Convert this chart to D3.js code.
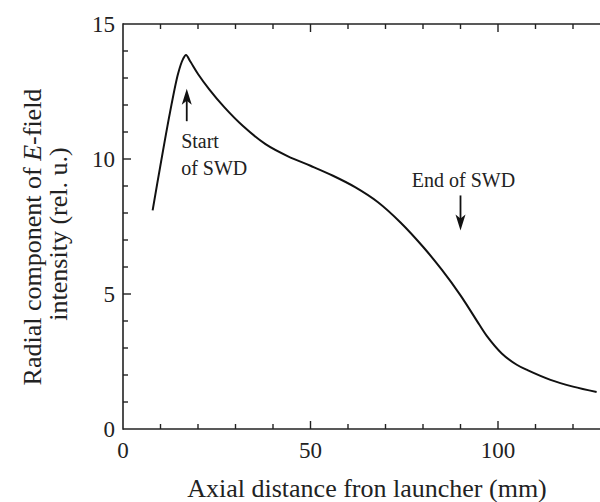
<!DOCTYPE html>
<html>
<head>
<meta charset="utf-8">
<script src="https://cdn.jsdelivr.net/npm/d3@7"></script>
<style>
  body { margin: 0; background: #fff; }
</style>
</head>
<body>
<script>
// field curve (mm, rel. u.)
const distance = [7.9, 9.9, 12.5, 14.7, 16.0, 16.8, 18.0, 20.0, 23.0, 27.0, 32.0, 38.0, 44.0, 50.0,
                  56.0, 62.0, 68.0, 74.0, 80.0, 85.0, 90.0, 95.0, 97.0, 101.0, 105.0, 108.0, 114.0, 120.0, 126.3]
const intensity = [8.1, 9.7, 11.7, 13.17, 13.7, 13.85, 13.6, 13.15, 12.58, 11.92, 11.22, 10.55, 10.1, 9.75,
                   9.38, 8.95, 8.4, 7.65, 6.75, 5.9, 4.95, 3.87, 3.45, 2.8, 2.38, 2.17, 1.82, 1.57, 1.37]

const xTicks = [0, 50, 100]
const xMinor = [10, 20, 30, 40, 60, 70, 80, 90, 110, 120]
const yTicks = [0, 5, 10, 15]
const yMinor = [1, 2, 3, 4, 6, 7, 8, 9, 11, 12, 13, 14]

// annotations: arrow x, tail, tip; text lines
const arrowX = [17, 90]
const arrowTail = [11.4, 8.65]
const arrowTip = [12.6, 7.35]
const noteLines = [["Start", "of SWD"], ["End of SWD"]]
const noteX = [15.5, 77]
const noteY = [10.4, 8.95]

const FONT = "'Liberation Serif', 'Times New Roman', Times, serif"

const data = distance.map((d, i) => ({x: d, y: intensity[i]}))

const svg = d3.select("body").append("svg")
  .attr("width", 600)
  .attr("height", 502)
  .attr("font-family", FONT)

const x = d3.scaleLinear().domain([0, 130]).range([123, 610.5])
const y = d3.scaleLinear().domain([0, 15]).range([429, 24])

// frame lines (right side falls outside the picture)
svg.append("line")
  .attr("x1", x(0)).attr("x2", 600)
  .attr("y1", y(0)).attr("y2", y(0))
  .attr("stroke", "#222").attr("stroke-width", 1.6)
svg.append("line")
  .attr("x1", x(0)).attr("x2", 600)
  .attr("y1", y(15)).attr("y2", y(15))
  .attr("stroke", "#222").attr("stroke-width", 1.6)
svg.append("line")
  .attr("x1", x(0)).attr("x2", x(0))
  .attr("y1", y(0) + 0.8).attr("y2", y(15) - 0.8)
  .attr("stroke", "#222").attr("stroke-width", 1.6)

// ticks, pointing inwards
const ticks = svg.append("g").attr("stroke", "#222").attr("stroke-width", 1.4)
function xTick(vals, len) {
  vals.forEach(v => {
    ticks.append("line").attr("x1", x(v)).attr("x2", x(v))
      .attr("y1", y(0)).attr("y2", y(0) - len)
    ticks.append("line").attr("x1", x(v)).attr("x2", x(v))
      .attr("y1", y(15)).attr("y2", y(15) + len)
  })
}
xTick(xTicks.slice(1), 8)
xTick(xMinor, 5)
yTicks.slice(1, 3).forEach(v => {
  ticks.append("line").attr("x1", x(0)).attr("x2", x(0) + 8).attr("y1", y(v)).attr("y2", y(v))
})
yMinor.forEach(v => {
  ticks.append("line").attr("x1", x(0)).attr("x2", x(0) + 5).attr("y1", y(v)).attr("y2", y(v))
})

// tick labels
svg.selectAll("text.xl")
  .data(xTicks)
  .enter()
  .append("text")
  .attr("class", "xl")
  .attr("x", d => x(d))
  .attr("y", y(0) + 29)
  .attr("text-anchor", "middle")
  .attr("font-family", FONT)
  .attr("font-size", 23)
  .attr("fill", "#222")
  .text(d => d)

svg.selectAll("text.yl")
  .data(yTicks)
  .enter()
  .append("text")
  .attr("class", "yl")
  .attr("x", x(0) - 8)
  .attr("y", d => y(d))
  .attr("dy", "0.34em")
  .attr("text-anchor", "end")
  .attr("font-family", FONT)
  .attr("font-size", 23)
  .attr("fill", "#222")
  .text(d => d)

// axis titles
svg.append("text")
  .attr("x", 367)
  .attr("y", 497)
  .attr("text-anchor", "middle")
  .attr("font-family", FONT)
  .attr("font-size", 26)
  .attr("fill", "#222")
  .text("Axial distance fron launcher (mm)")

const yt = svg.append("text")
  .attr("transform", "translate(41,237) rotate(-90)")
  .attr("text-anchor", "middle")
  .attr("font-family", FONT)
  .attr("font-size", 26)
  .attr("fill", "#222")
yt.append("tspan").text("Radial component of ")
yt.append("tspan").attr("font-style", "italic").text("E")
yt.append("tspan").text("-field")
svg.append("text")
  .attr("transform", "translate(67,234) rotate(-90)")
  .attr("text-anchor", "middle")
  .attr("font-family", FONT)
  .attr("font-size", 26)
  .attr("fill", "#222")
  .text("intensity (rel. u.)")

// curve
const line = d3.line()
  .x(d => x(d.x))
  .y(d => y(d.y))
  .curve(d3.curveCatmullRom.alpha(0.5))

svg.append("path")
  .attr("fill", "none")
  .attr("stroke", "#111")
  .attr("stroke-width", 2)
  .attr("d", line(data))

// arrows
arrowX.forEach((ax, i) => {
  const x0 = x(ax), yTail = y(arrowTail[i]), yTip = y(arrowTip[i])
  const dir = yTip < yTail ? 1 : -1
  const headLen = 16, headW = 5
  svg.append("line")
    .attr("x1", x0).attr("x2", x0)
    .attr("y1", yTail).attr("y2", yTip + dir * headLen * 0.6)
    .attr("stroke", "#111").attr("stroke-width", 1.8)
  svg.append("path")
    .attr("d", `M${x0},${yTip} L${x0 - headW},${yTip + dir * headLen} L${x0},${yTip + dir * headLen * 0.75} L${x0 + headW},${yTip + dir * headLen} Z`)
    .attr("fill", "#111")
})

// notes
noteLines.forEach((lines, i) => {
  lines.forEach((t, k) => {
    svg.append("text")
      .attr("x", x(noteX[i]))
      .attr("y", y(noteY[i]) + k * 26.7)
      .attr("font-family", FONT)
      .attr("font-size", 20)
      .attr("fill", "#222")
      .text(t)
  })
})
</script>
</body>
</html>
